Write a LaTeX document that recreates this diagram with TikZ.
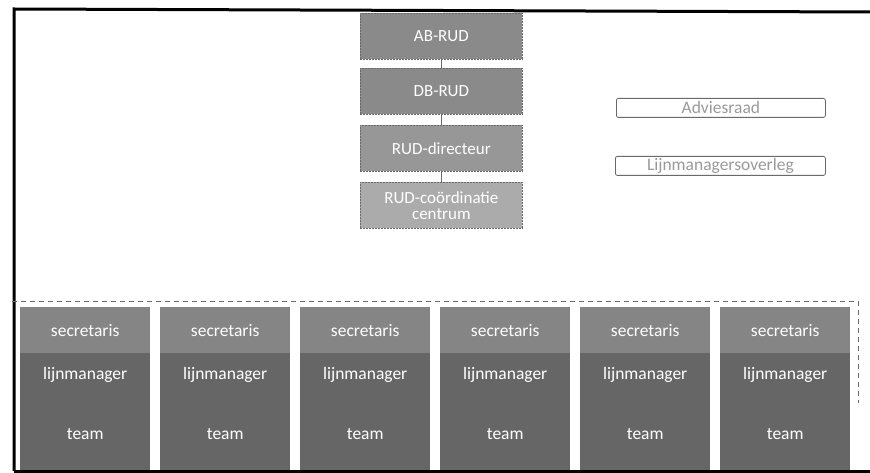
\documentclass[tikz,border=0pt]{standalone}
\usepackage{fontspec}
\setmainfont{Carlito}
\usetikzlibrary{backgrounds}
\definecolor{boxA}{HTML}{8A8A8A}
\definecolor{boxB}{HTML}{979797}
\definecolor{boxC}{HTML}{ABABAB}
\definecolor{secr}{HTML}{858585}
\definecolor{lmgr}{HTML}{666666}
\definecolor{edge}{HTML}{6A6A6A}
\definecolor{pale}{HTML}{9A9A9A}
\tikzset{
  topbox/.style={fill=#1, draw=edge, line width=0.7pt, dash pattern=on 2pt off 1pt, anchor=north west,
    minimum width=162pt, minimum height=46pt, inner sep=0pt, text=white, align=center,
    font=\fontsize{17}{17}\selectfont},
  sidebox/.style={draw=edge, line width=0.8pt, rounded corners=2pt, anchor=north west,
    minimum width=209pt, minimum height=19pt, inner sep=0pt, text=pale,
    font=\fontsize{17.5}{17}\selectfont},
  colbox/.style={fill=#1, draw=none, anchor=north west, minimum width=130pt,
    inner sep=0pt, text=white, font=\fontsize{17.5}{18}\selectfont},
  thinlink/.style={draw=edge, line width=0.7pt}
}
\begin{document}
\begin{tikzpicture}[x=1pt,y=-1pt]
\useasboundingbox (0,0) rectangle (870,473);
\fill[white] (0,0) rectangle (870,473);
% outer frame
\draw[line width=3pt, black] (14,471) -- (14,9) -- (870,12);
\draw[line width=3pt, black] (14,471) -- (870,471);

% top hierarchy
\node[topbox=boxA] (ab) at (360,13) {AB-RUD};
\node[topbox=boxA] (db) at (360,68) {DB-RUD};
\node[topbox=boxB] (dir) at (360,125) {RUD-directeur};
\node[topbox=boxC, minimum height=46pt] (coord) at (360,182) {RUD-coördinatie\\[-1pt]centrum};
\draw[thinlink] (ab) -- (db);
\draw[thinlink] (db) -- (dir);
\draw[thinlink] (dir) -- (coord);

% side bodies
\node[sidebox] (advies) at (616,98) {Adviesraad};
\node[sidebox, minimum width=210pt] (overleg) at (615,156) {Lijnmanagersoverleg};

% dashed grouping frame
\draw[edge, line width=0.8pt, dash pattern=on 5pt off 4pt] (12,301) -- (858,301) -- (858,403);

% columns
\foreach \i in {1,...,6}{
  \pgfmathsetmacro{\xx}{20+140*(\i-1)}
  \node[colbox=secr, minimum height=46pt] (s\i) at (\xx,307) {secretaris};
  \node[colbox=lmgr, minimum height=45.5pt] (l\i) at (\xx,353) {\raisebox{5pt}{lijnmanager}};
  \node[colbox=lmgr, minimum height=72pt] (t\i) at (\xx,398) {team};
}
\begin{scope}[on background layer]
  \draw[thinlink] ([xshift=-6pt]s1.south west) -- ([xshift=10pt]s6.south east);
  \draw[thinlink] ([xshift=-6pt]l1.south west) -- ([xshift=10pt]l6.south east);
\end{scope}
\end{tikzpicture}
\end{document}
